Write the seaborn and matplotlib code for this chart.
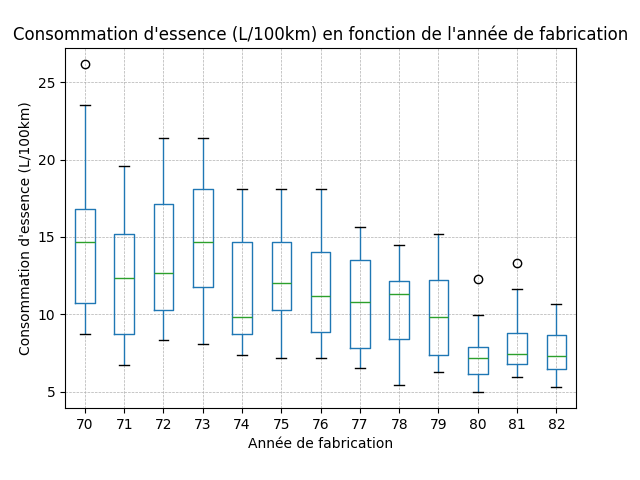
import matplotlib
matplotlib.use("Agg")
import matplotlib.pyplot as plt
import seaborn as sns
import pandas as pd

# valeurs (L/100km)
annees = [70, 71, 72, 73, 74, 75, 76, 77, 78, 79, 80, 81, 82]
minimums = [8.7, 6.7, 8.35, 8.1, 7.35, 7.15, 7.15, 6.5, 5.45, 6.3, 5.0, 5.97, 5.32]
q1 = [10.7, 8.7, 10.25, 11.77, 8.7, 10.25, 8.87, 7.84, 8.42, 7.39, 6.16, 6.81, 6.48]
medianes = [14.7, 12.35, 12.68, 14.7, 9.8, 12.03, 11.19, 10.81, 11.32, 9.84, 7.19, 7.45, 7.32]
q3 = [16.8, 15.2, 17.13, 18.1, 14.7, 14.7, 14.03, 13.52, 12.16, 12.23, 7.9, 8.81, 8.68]
maximums = [23.5, 19.6, 21.4, 21.4, 18.1, 18.1, 18.1, 15.65, 14.48, 15.2, 9.97, 11.65, 10.68]
aberrants = [26.15, None, None, None, None, None, None, None, None, None, 12.3, 13.3, None]

rows = []
for an, mn, a, md, b, mx, out in zip(annees, minimums, q1, medianes, q3, maximums, aberrants):
    if out is None:
        vals = [mn, a, md, b, mx]
    else:
        vals = [mn, a, a, md, md, b, b, mx, out]
    for v in vals:
        rows.append({'annee': an, 'conso': v})
df = pd.DataFrame(rows)

fig, ax = plt.subplots(figsize=(6.4, 4.8), dpi=100)
sns.boxplot(data=df, x='annee', y='conso', ax=ax, fill=False, width=0.5,
            color='C0', linewidth=1,
            boxprops=dict(color='C0'),
            whiskerprops=dict(color='C0'),
            capprops=dict(color='black'),
            medianprops=dict(color='C2'),
            flierprops=dict(marker='o', markerfacecolor='none', markeredgecolor='black', markersize=6))
ax.grid(True, linestyle='--', linewidth=0.5, color='#b0b0b0')
ax.set_axisbelow(True)
ax.set_title("Consommation d'essence (L/100km) en fonction de l'année de fabrication")
ax.set_xlabel("Année de fabrication")
ax.set_ylabel("Consommation d'essence (L/100km)")
ax.set_yticks([5, 10, 15, 20, 25])
fig.subplots_adjust(left=0.102, right=0.9, bottom=0.15, top=0.9)
fig.savefig('out.png', dpi=100)
